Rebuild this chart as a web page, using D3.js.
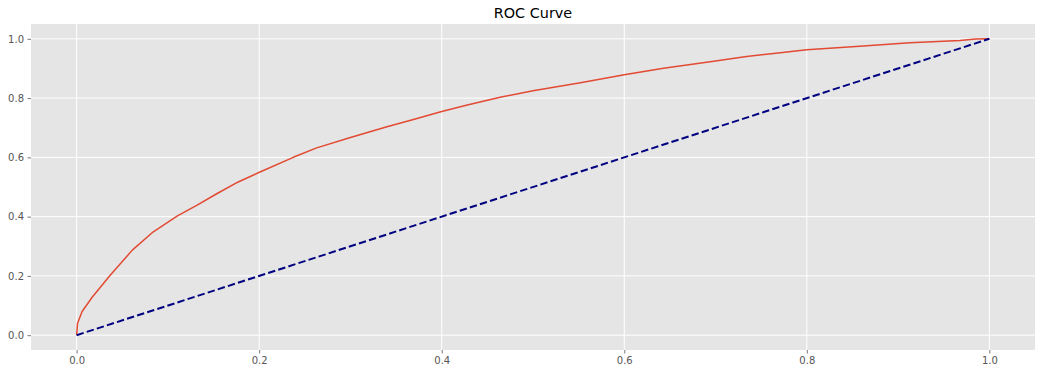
<!DOCTYPE html>
<html>
<head>
<meta charset="utf-8">
<script src="https://cdn.jsdelivr.net/npm/d3@7"></script>
<style>
	body { margin: 0; background: #fff; }
	text { font-family: "DejaVu Sans", sans-serif; }
</style>
</head>
<body>
<div id="chart"></div>
<script>
// false positive rate / true positive rate
var fpr = [0, 0.001, 0.006, 0.017, 0.037, 0.061, 0.084, 0.11, 0.132, 0.154, 0.177, 0.199, 0.238, 0.263, 0.30, 0.34, 0.369, 0.40, 0.428, 0.464, 0.50, 0.552, 0.60, 0.643, 0.698, 0.734, 0.771, 0.80, 0.858, 0.913, 0.968, 0.985, 1.0];
var tpr = [0, 0.04, 0.08, 0.128, 0.203, 0.287, 0.349, 0.402, 0.439, 0.478, 0.517, 0.548, 0.601, 0.632, 0.667, 0.703, 0.728, 0.755, 0.777, 0.803, 0.825, 0.852, 0.879, 0.901, 0.924, 0.94, 0.953, 0.963, 0.975, 0.987, 0.994, 0.999, 1.0];
var diagX = [0, 1];
var diagY = [0, 1];
var xTicks = [0, 0.2, 0.4, 0.6, 0.8, 1.0];
var yTicks = [0, 0.2, 0.4, 0.6, 0.8, 1.0];
var title = "ROC Curve";

var width = 1041,
	height = 374;
var margin = { top: 24, right: 6, bottom: 24, left: 31 };

var svg = d3.select("#chart")
	.append("svg")
	.attr("width", width)
	.attr("height", height);

var x = d3.scaleLinear()
	.domain([-0.05, 1.05])
	.range([margin.left, width - margin.right]);
var y = d3.scaleLinear()
	.domain([-0.05, 1.05])
	.range([height - margin.bottom, margin.top]);

// plot background
svg.append("rect")
	.attr("x", margin.left)
	.attr("y", margin.top)
	.attr("width", width - margin.left - margin.right)
	.attr("height", height - margin.top - margin.bottom)
	.attr("fill", "#E5E5E5");

// grid lines
svg.append("g")
	.selectAll("line")
	.data(xTicks)
	.enter()
	.append("line")
	.attr("x1", function (d) { return x(d); })
	.attr("x2", function (d) { return x(d); })
	.attr("y1", margin.top)
	.attr("y2", height - margin.bottom)
	.attr("stroke", "#fff")
	.attr("stroke-width", 1);
svg.append("g")
	.selectAll("line")
	.data(yTicks)
	.enter()
	.append("line")
	.attr("y1", function (d) { return y(d); })
	.attr("y2", function (d) { return y(d); })
	.attr("x1", margin.left)
	.attr("x2", width - margin.right)
	.attr("stroke", "#fff")
	.attr("stroke-width", 1);

// axes
var xAxis = svg.append("g")
	.attr("transform", "translate(0," + (height - margin.bottom) + ")")
	.call(d3.axisBottom(x).tickValues(xTicks).tickFormat(d3.format(".1f")).tickSize(3.5).tickPadding(3.5));
var yAxis = svg.append("g")
	.attr("transform", "translate(" + margin.left + ",0)")
	.call(d3.axisLeft(y).tickValues(yTicks).tickFormat(d3.format(".1f")).tickSize(3.5).tickPadding(3.5));

[xAxis, yAxis].forEach(function (a) {
	a.select(".domain").remove();
	a.selectAll(".tick line").attr("stroke", "#555").attr("stroke-width", 0.8);
	a.selectAll(".tick text")
		.attr("fill", "#555")
		.style("font-family", "'DejaVu Sans', sans-serif")
		.style("font-size", "10px");
});

// curves
var line = d3.line()
	.x(function (d) { return x(d[0]); })
	.y(function (d) { return y(d[1]); });

svg.append("path")
	.datum(d3.zip(fpr, tpr))
	.attr("d", line)
	.attr("fill", "none")
	.attr("stroke", "#E24A33")
	.attr("stroke-width", 1.5)
	.attr("stroke-linejoin", "round");

svg.append("path")
	.datum(d3.zip(diagX, diagY))
	.attr("d", line)
	.attr("fill", "none")
	.attr("stroke", "navy")
	.attr("stroke-width", 2)
	.attr("stroke-dasharray", "7.4,3.2");

// title
svg.append("text")
	.attr("x", (margin.left + width - margin.right) / 2)
	.attr("y", 18)
	.attr("text-anchor", "middle")
	.attr("fill", "#000")
	.style("font-size", "14.4px")
	.text(title);
</script>
</body>
</html>
